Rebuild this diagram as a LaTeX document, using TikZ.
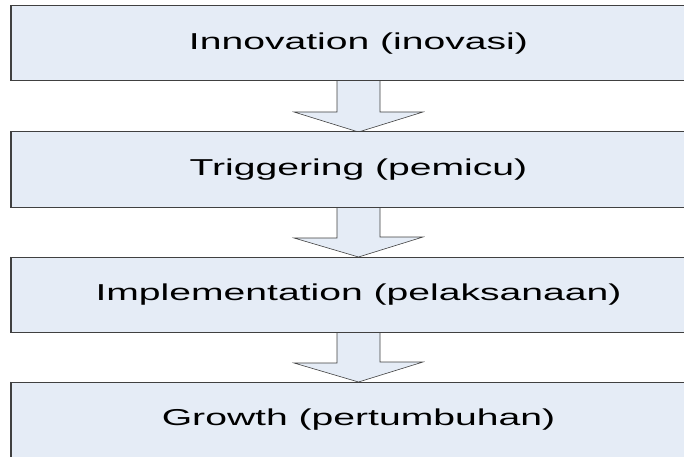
\documentclass[tikz,border=0pt]{standalone}
\usepackage{fontspec}
\newfontfamily\boxfont[FakeStretch=1.7]{Liberation Sans}
\usetikzlibrary{calc}
\definecolor{boxfill}{HTML}{E5ECF6}
\definecolor{boxline}{HTML}{404040}

\begin{document}
\begin{tikzpicture}[x=1pt,y=1pt,
  stage/.style={draw=boxline,line width=1pt,fill=boxfill,minimum width=695pt,
    minimum height=75pt,inner sep=0pt,font=\boxfont\fontsize{23}{27}\selectfont},
  blockarrow/.style={draw=boxline,line width=0.6pt,fill=boxfill,line join=miter}]
\useasboundingbox (0,0) rectangle (684,-457);
\clip (0,0) rectangle (684,-456.4);

%stages
\path (358.5,-43.5) coordinate (c1);
\path (358.5,-169.5) coordinate (c2);
\path (358.5,-294.5) coordinate (c3);
\path (358.5,-419.5) coordinate (c4);

%arrows (under the boxes)
\foreach \a/\b in {c1/c2,c2/c3,c3/c4}{
  \draw[blockarrow] ($(\a)+(-21.5,-37.5)$) -- ++(0,-31) -- ++(-43,0)
    -- ($(\b)+(0,37.5)$) -- ++(64.5,20) -- ++(-43,0) -- ($(\a)+(21.5,-37.5)$);
}

%boxes
\node[stage] (inno) at (c1) {Innovation (inovasi)};
\node[stage] (trig) at (c2) {Triggering (pemicu)};
\node[stage] (impl) at (c3) {Implementation (pelaksanaan)};
\node[stage] (grow) at (c4) {Growth (pertumbuhan)};

%darker left edges
\foreach \n in {inno,trig,impl,grow}
  \draw[boxline,line width=1.8pt] (\n.north west) -- (\n.south west);
\end{tikzpicture}
\end{document}
